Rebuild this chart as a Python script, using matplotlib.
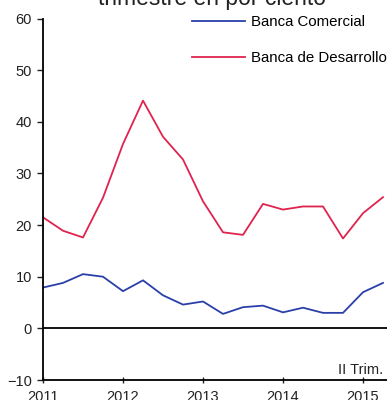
import matplotlib
matplotlib.use("Agg")
import matplotlib.pyplot as plt

plt.rcParams['font.family'] = ['Liberation Sans', 'DejaVu Sans']

quarters = list(range(18))  # 2011 Q1 .. 2015 Q2
comercial = [7.9, 8.8, 10.5, 10.0, 7.2, 9.3, 6.4, 4.6, 5.2, 2.8, 4.1, 4.4, 3.1, 4.0, 3.0, 3.0, 7.0, 8.8]
desarrollo = [21.5, 18.9, 17.6, 25.3, 35.7, 44.1, 37.1, 32.7, 24.6, 18.6, 18.1, 24.1, 23.0, 23.6, 23.6, 17.4, 22.3, 25.4]
year_labels = ["2011", "2012", "2013", "2014", "2015"]
year_pos = [0, 4, 8, 12, 16]
yticks = [-10, 0, 10, 20, 30, 40, 50, 60]

W, H = 387, 400
fig = plt.figure(figsize=(W/100, H/100), dpi=100)
left = 43/W
bottom = 1 - 380/H
top = 1 - 18.5/H
ax = fig.add_axes([left, bottom, 1 - left, top - bottom])

ax.plot(quarters, comercial, color='#2b3fa8', lw=1.3, label='Banca Comercial')
ax.plot(quarters, desarrollo, color='#e0234e', lw=1.3, label='Banca de Desarrollo')
ax.axhline(0, color='black', lw=1.3)

ax.set_ylim(-10, 60)
ax.set_xlim(0, (W - 43) / 20)
ax.set_yticks(yticks)
ax.set_xticks(year_pos)
ax.set_xticklabels(year_labels)
for s in ['top', 'right']:
    ax.spines[s].set_visible(False)
ax.spines['left'].set_linewidth(1.3)
ax.spines['bottom'].set_linewidth(1.3)
ax.tick_params(axis='y', direction='out', length=4, width=1, labelsize=10.5, colors='#222222', pad=4)
ax.tick_params(axis='x', direction='inout', length=5, width=1, labelsize=10.5, colors='#222222', pad=5)

ax.legend(loc='upper left', bbox_to_anchor=(143 / (W - 43), 1.025), frameon=False, fontsize=10.8,
          handlelength=3.5, labelspacing=1.45, handletextpad=0.45, borderaxespad=0)

fig.text(0.99, 1 - 370/H, "II Trim.", ha='right', va='center', fontsize=10.5, color='#222222')
fig.text(212/W, 1 - 5/H, "trimestre en por ciento", ha='center', va='baseline', fontsize=16.5, color='#222222')

fig.savefig("out.png", dpi=100)
